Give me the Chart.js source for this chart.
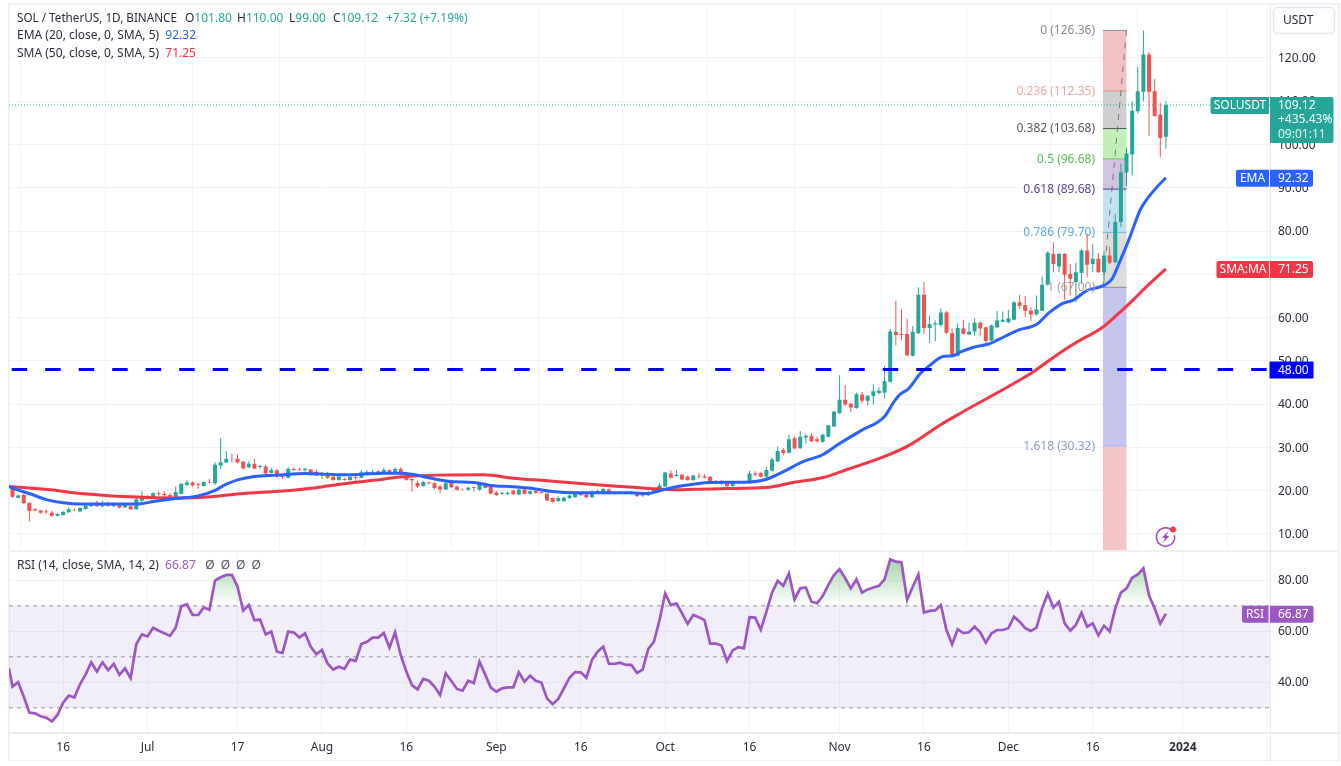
<!DOCTYPE html>
<html><head><meta charset="utf-8"><title>SOL / TetherUS</title>
<script src="https://cdn.jsdelivr.net/npm/chart.js@4"></script>
<style>
html,body{margin:0;padding:0;background:#fff;overflow:hidden;width:1341px;height:766px}
canvas{position:absolute;left:0}
.f{position:absolute;background:#eef0f5}
</style></head><body>
<div class="f" style="left:8px;top:3px;width:1331px;height:1.5px"></div>
<div class="f" style="left:8px;top:759.5px;width:1331px;height:1.5px"></div>
<div class="f" style="left:8px;top:3px;width:1.5px;height:758px"></div>
<div class="f" style="left:1338px;top:3px;width:1.5px;height:758px"></div>
<div class="f" style="left:8px;top:549.5px;width:1331px;height:2px"></div>
<div class="f" style="left:8px;top:732px;width:1331px;height:1.5px;background:#e8eaf0"></div>
<div class="f" style="left:1269.5px;top:3px;width:1.5px;height:758px;background:#e8eaf0"></div>
<canvas id="main" width="1341" height="550" style="top:0"></canvas>
<canvas id="rsi" width="1341" height="216" style="top:550px"></canvas>
<script>
// Daily candles, index 0 = 7 Jun 2023 ... index 205 = 29 Dec 2023
const opens=[20.7,18.4,19.0,17.2,15.7,15.4,15.2,14.9,14.2,14.4,
15.0,15.6,15.2,15.8,16.4,17.3,16.4,17.1,16.4,16.7,
16.2,16.4,15.7,17.7,18.6,18.4,19.4,19.3,19.0,18.5,
19.3,21.3,21.9,21.5,21.1,22.0,21.7,25.8,26.5,27.4,
27.4,26.7,25.4,26.2,25.5,25.6,24.1,24.7,23.4,23.0,
25.0,24.9,24.7,24.9,24.4,23.8,24.1,23.2,22.5,22.7,
22.5,23.2,23.0,24.0,24.2,24.5,24.2,24.7,23.9,25.0,
23.8,22.7,21.8,21.1,21.9,21.7,21.0,20.3,21.9,20.9,
20.3,20.2,20.8,20.2,21.8,20.9,19.6,19.3,19.25,20.0,
19.1,20.3,19.3,20.0,19.7,19.3,18.3,17.6,17.6,18.3,
18.5,19.3,19.1,18.5,19.5,19.7,20.3,19.7,19.6,19.6,
19.3,19.3,18.9,18.95,19.6,20.1,21.0,24.0,23.4,23.7,
23.3,22.5,23.35,23.3,23.2,21.9,22.2,21.9,21.1,21.8,
22.0,21.8,24.0,24.1,23.2,24.6,26.75,29.4,28.75,32.1,
29.8,32.3,32.7,31.9,31.3,32.45,34.85,37.9,41.0,40.1,
39.1,42.25,40.8,41.9,42.6,42.7,45.2,56.7,56.2,56.2,
51.2,56.4,65.3,57.6,58.4,58.3,61.2,56.4,51.2,57.5,
56.1,56.8,58.8,57.75,54.7,57.75,59.05,58.9,59.5,63.5,
62.9,61.6,60.7,61.6,67.6,74.7,71.8,74.7,70.1,68.2,
70.3,75.5,72.4,73.6,70.5,74.35,72.8,82.1,93.5,97.7,
107.7,112.2,120.8,112.3,106.9,101.8];
const highs=[20.9,19.2,19.3,17.2,16.0,15.6,15.8,15.3,14.8,15.3,
16.1,15.9,16.1,16.9,17.3,17.7,17.6,17.5,17.3,17.0,
16.9,16.9,18.3,19.9,18.9,19.7,19.9,19.9,19.4,21.0,
21.7,22.4,22.1,21.8,22.2,22.7,26.6,32.1,29.1,28.6,
28.4,26.9,26.8,27.4,26.0,26.0,25.3,25.0,23.8,25.4,
25.4,25.3,25.3,25.1,24.9,24.4,24.4,23.6,23.4,23.0,
23.4,23.6,24.8,24.7,24.8,24.7,25.3,24.9,25.4,25.4,
24.1,22.9,22.3,22.3,22.1,21.96,21.3,21.9,22.1,21.2,
20.5,20.9,20.96,22.0,22.0,21.1,19.9,19.7,19.7,20.3,
20.5,20.5,20.1,20.3,19.9,19.6,18.4,18.8,18.6,19.1,
19.5,19.5,19.3,20.1,20.3,20.65,20.5,19.9,19.8,19.7,
19.6,19.5,19.5,19.95,20.6,21.8,24.4,24.7,24.8,23.9,
23.5,23.7,24.1,23.8,23.4,22.5,22.5,22.1,22.3,22.3,
22.3,24.6,24.5,24.4,25.4,27.7,30.2,29.8,32.9,32.5,
33.8,33.15,33.3,32.45,33.15,35.2,38.5,46.7,44.4,40.25,
42.6,42.8,42.1,44.7,43.9,48.9,57.4,63.9,61.9,59.8,
58.0,67.0,68.2,60.5,59.3,62.1,61.5,57.4,58.7,59.5,
58.8,59.8,59.1,57.9,58.4,61.6,61.4,61.8,63.8,65.3,
65.0,62.4,65.1,69.5,75.35,77.4,75.0,74.9,72.4,72.6,
75.9,79.4,77.05,74.95,75.3,76.3,84.0,95.6,99.3,110.0,
117.95,126.36,121.3,115.1,109.5,110.0];
const lows=[18.3,18.2,17.0,12.9,15.2,14.7,14.7,13.9,14.1,14.2,
14.9,15.3,15.2,15.6,16.3,16.3,16.1,16.3,16.3,15.9,
16.0,15.6,15.6,17.4,17.9,18.2,18.8,18.6,18.4,18.1,
19.2,21.1,21.0,20.4,21.0,21.7,21.3,25.0,26.4,26.5,
26.3,24.8,25.2,25.0,25.1,23.8,24.0,23.0,22.7,22.9,
24.6,24.6,24.4,23.5,23.4,22.7,22.7,22.3,22.3,22.3,
22.3,22.0,22.9,23.9,24.0,24.1,24.0,23.8,23.7,23.6,
22.3,19.8,20.7,20.9,21.5,20.3,19.4,20.2,20.6,20.0,
20.0,20.0,19.8,20.0,20.5,19.1,18.8,19.0,19.0,19.0,
18.95,19.1,19.1,19.3,19.3,17.6,17.3,17.4,17.4,18.1,
18.3,18.8,18.3,18.3,19.3,19.6,19.2,19.2,19.3,19.2,
19.1,18.6,18.6,18.8,19.4,19.95,20.9,22.9,23.2,22.4,
22.3,22.3,22.8,22.8,21.5,21.5,21.3,20.7,20.9,21.5,
21.5,21.65,23.4,23.0,23.0,24.4,26.6,28.2,28.6,29.6,
29.7,30.9,31.2,31.1,31.1,32.3,34.7,37.8,39.55,38.1,
38.95,40.2,39.7,39.9,42.2,41.3,45.0,53.6,54.7,51.1,
51.0,56.2,56.2,54.1,54.45,57.9,56.2,51.1,51.0,56.1,
56.0,55.8,55.8,53.5,54.5,57.6,58.9,58.7,59.4,62.0,
60.1,59.15,60.5,61.5,67.4,70.5,70.5,64.1,65.1,63.5,
67.8,69.3,70.5,70.3,68.2,72.4,72.65,80.9,90.4,92.9,
107.15,110.0,102.0,106.45,97.0,99.0];
const closes=[18.6,18.9,17.1,15.3,15.4,14.9,15.0,14.2,14.6,15.1,
15.7,15.5,16.0,16.6,17.1,16.4,17.1,16.5,17.0,16.1,
16.7,15.7,18.0,18.7,18.3,19.4,19.2,19.0,18.6,19.7,
21.6,21.9,21.2,21.3,22.0,21.9,26.0,26.6,27.4,27.3,
26.5,25.2,26.2,25.1,25.7,24.0,24.8,23.3,23.2,25.1,
24.7,24.7,25.0,23.7,23.6,24.0,23.0,22.5,23.2,22.5,
23.2,23.0,24.2,24.3,24.4,24.3,24.8,23.9,25.0,23.7,
22.5,22.4,21.0,22.0,21.7,20.6,20.3,21.7,20.8,20.2,
20.2,20.7,20.65,21.8,20.7,19.3,19.0,19.5,19.5,19.2,
20.3,19.3,19.9,19.5,19.5,17.8,17.4,18.3,18.4,18.9,
19.3,19.0,18.5,19.6,19.95,20.4,19.3,19.3,19.4,19.3,
19.5,18.7,19.3,19.7,20.3,21.2,24.2,23.0,23.7,22.6,
22.5,23.5,23.2,23.0,21.7,22.1,21.7,21.1,22.0,22.0,
21.8,24.0,23.7,23.2,24.8,27.2,29.2,28.7,31.9,29.75,
32.45,32.7,31.4,31.4,32.9,35.1,38.25,41.0,39.9,39.2,
42.3,40.8,41.95,43.0,43.1,45.3,56.8,56.0,56.0,51.3,
56.7,65.3,57.6,58.5,58.7,61.2,56.5,51.3,57.6,56.2,
56.7,58.8,57.5,54.6,58.15,59.3,59.5,59.8,63.55,62.7,
61.5,60.7,61.85,67.6,74.96,72.4,74.7,69.9,68.95,70.5,
75.5,72.2,73.6,70.5,74.35,72.65,82.1,93.6,97.9,107.8,
112.3,120.8,112.2,106.6,101.5,109.12];

const emaDays=[-0.62,0,3,6,9,12,16,22,25,29,33,36,38,40,43,47,52,56,59,62,66,69,71,74,78,82,85,89,93,96,100,105,110,113,115,118,121,124,130,134,137,140.6,144,147,150.7,155,156.6,157.8,159.2,161.3,163,165.5,167.2,168.4,170.7,173.7,176.6,179,182,184.3,186.7,188.5,190.9,193.9,195.4,196.9,198.6,200.4,201.9,203.4,205];
const emaValues=[21.0,20.6,19.35,17.95,17.2,16.9,16.9,16.9,17.5,18.2,18.8,20.1,21.5,22.5,23.3,23.6,24.0,23.8,23.66,23.8,24.05,24.05,23.8,23.0,22.1,21.9,21.2,20.9,20.4,19.8,19.5,19.55,19.5,19.35,20.0,20.9,21.5,21.9,21.96,22.65,24.4,26.75,28.3,30.9,33.8,37.15,40.4,42.3,43.5,47.0,48.9,51.05,51.2,52.0,53.1,54.0,55.8,57.2,58.4,61.2,63.3,64.0,66.2,67.4,68.9,73.2,78.6,84.8,87.85,90.17,92.32];
const smaDays=[-0.62,6.7,12.6,20.9,29.8,35.7,40.4,48.1,54,58.2,64.1,69.5,76,83.7,89,95,100.9,106.8,113.3,118.6,121,127,134,138.8,144.1,148.3,154.8,159.5,164.9,168.4,178.8,181.5,185,188.6,193.9,196.3,199.2,201.6,205];
const smaValues=[21.0,20.2,19.3,18.6,18.3,18.65,19.3,19.95,20.7,21.5,22.4,23.2,23.6,23.66,22.9,22.3,21.65,21.1,20.5,20.2,20.35,20.5,20.73,21.9,23.04,24.9,27.8,30.6,35.2,37.85,45.4,47.55,50.8,53.9,57.9,60.6,64.1,67.2,71.25];

const rsiValues=[38.3,40.0,34.4,28.1,27.8,26.7,26.1,24.6,27.2,32.0,
34.8,34.0,39.2,43.1,47.8,44.2,47.8,44.8,47.2,42.9,
45.5,41.6,54.9,58.8,58.0,61.4,60.2,59.2,58.2,61.4,
69.8,70.6,66.4,66.4,69.4,68.4,79.9,81.2,82.1,82.1,
77.5,68.1,70.3,64.3,64.6,58.8,59.9,52.0,51.5,59.9,
59.5,57.6,59.2,54.0,51.0,52.7,47.4,45.0,46.1,45.3,
48.9,48.4,55.0,55.9,57.5,57.5,59.3,53.6,59.6,50.7,
44.2,38.9,37.2,41.3,40.6,38.3,35.0,43.5,40.5,37.4,
36.7,40.6,39.7,48.1,43.1,37.9,36.3,37.6,38.0,38.0,
43.9,40.2,42.6,40.6,39.9,33.7,31.4,33.5,37.6,41.8,
44.0,43.9,41.8,48.8,52.0,54.0,47.3,47.2,47.7,46.8,
46.8,43.65,45.0,53.1,55.9,64.4,74.9,70.3,71.0,67.0,
62.9,66.4,65.5,64.4,55.2,55.2,54.4,48.4,52.5,53.8,
53.3,65.5,65.35,60.6,67.7,75.15,79.85,77.9,82.7,72.5,
76.85,77.2,71.6,71.0,73.85,78.2,82.1,84.4,80.8,76.85,
80.4,75.15,76.45,77.2,77.8,80.4,88.2,87.3,87.05,72.3,
77.5,82.3,67.4,68.0,68.2,70.3,60.5,54.9,60.8,59.3,
59.6,61.8,59.6,55.5,59.2,60.5,60.5,61.2,65.7,63.8,
61.2,60.1,61.4,69.0,74.75,69.3,71.6,63.1,60.25,62.5,
67.3,61.8,63.1,58.4,62.2,59.9,69.0,75.15,76.85,81.0,
82.3,84.7,74.0,69.0,63.0,66.87];
const rsiLeadIn=45.5;

const priceTicks=[120,110,100,90,80,70,60,50,40,30,20,10];
const rsiTicks=[80,60,40];
const rsiLevels=[70,50,30];
const timeTickDays=[9,24,40,55,70,86,101,116,131,147,162,177,192,208];
const timeTickLabels=['16','Jul','17','Aug','16','Sep','16','Oct','16','Nov','16','Dec','16','2024'];

const supportLevel=48;
const lastPrice=109.12, emaLast=92.32, smaLast=71.25, rsiLast=66.87;
const fibLevels=[126.36,112.35,103.68,96.68,89.68,79.70,67.00,30.32];
const fibRatios=['0','0.236','0.382','0.5','0.618','0.786','1','1.618'];
const fibLine=['#8a8d96','#e88d8d','#55585f','#66cc55','#5e3a96','#62b4e2','#8a8d96','#b4b4e6'];
const fibText=['#8b8b8b','#f0a5a5','#5a5a5a','#5dbb55','#5f3f9c','#5aa9dc','#a2a2a2','#8e9ccb'];
const fibFill=['#f2c2c2','#cfcfd1','#c2efb8','#d0c4e2','#c3e1f1','#dcdcdc','#c4c4ee','#f4c6c6'];
const fibDayStart=193.8, fibDayEnd=198.0, fibDayMid=195.9;

const XMIN=-0.62, XMAX=223.5;
const UP='#26a69a', DOWN='#ef5350', BLUE='#2962ff', RED='#f23645', PURPLE='#9c57c2';
const FONT='"Noto Sans", "Open Sans", sans-serif';
const TEXT='#2a2e39';
Chart.defaults.animation=false;
Chart.defaults.font.family=FONT;

const days=opens.map((_,i)=>i);
const cols=days.map(i=>closes[i]>=opens[i]?UP:DOWN);
const xy=(xs,ys)=>xs.map((x,i)=>({x,y:ys[i]}));
const hline=(y)=>[{x:XMIN,y},{x:XMAX,y}];
const fitX=h=>s=>{s.height=h;s.paddingLeft=0;s.paddingRight=0;s.paddingTop=0;s.paddingBottom=0};
const fitY=s=>{s.width=71;s.paddingTop=0;s.paddingBottom=0;s.paddingLeft=0;s.paddingRight=0};

function box(ctx,x,y,w,h,c,rl,rr){ctx.fillStyle=c;ctx.beginPath();ctx.roundRect(x,y,w,h,[rl,rr,rr,rl]);ctx.fill();}
function txt(ctx,s,x,y,c,align,font,maxW){ctx.fillStyle=c;ctx.textAlign=align||'left';ctx.textBaseline='middle';ctx.font=font||('12px '+FONT);if(maxW)ctx.fillText(s,x,y,maxW);else ctx.fillText(s,x,y);}
function runs(ctx,x,y,parts){ctx.font='12px '+FONT;ctx.textAlign='left';ctx.textBaseline='middle';for(const [s,c] of parts){ctx.fillStyle=c;ctx.fillText(s,x,y);x+=ctx.measureText(s).width;}return x;}

const mainOverlay={id:'mainOverlay',afterDraw(chart){
  const ctx=chart.ctx,ys=chart.scales.y;ctx.save();
  // fibonacci labels
  fibLevels.forEach((v,i)=>txt(ctx,fibRatios[i]+' ('+v.toFixed(2)+')',1095,ys.getPixelForValue(v)+0.5,fibText[i],'right'));
  // legend
  txt(ctx,'SOL / TetherUS, 1D, BINANCE',17,18.5,TEXT,'left',null,160);
  runs(ctx,185,18.5,[['O',TEXT],['101.80',UP]]);
  runs(ctx,237,18.5,[['H',TEXT],['110.00',UP]]);
  runs(ctx,289,18.5,[['L',TEXT],['99.00',UP]]);
  runs(ctx,333,18.5,[['C',TEXT],['109.12',UP]]);
  runs(ctx,386,18.5,[['+7.32 (+7.19%)',UP]]);
  runs(ctx,17,36,[['EMA (20, close, 0, SMA, 5)  ',TEXT],[emaLast.toFixed(2),BLUE]]);
  runs(ctx,17,53.5,[['SMA (50, close, 0, SMA, 5)  ',TEXT],[smaLast.toFixed(2),RED]]);
  // USDT button
  ctx.fillStyle='#fff';ctx.strokeStyle='#e6e8ef';ctx.lineWidth=1.5;ctx.beginPath();ctx.roundRect(1273.5,7.5,61,26,4);ctx.fill();ctx.stroke();
  txt(ctx,'USDT',1283,21,TEXT);
  // price tags
  const p=ys.getPixelForValue(lastPrice)+0.5;
  box(ctx,1210.5,p-8.5,58.5,17,UP,2,0);txt(ctx,'SOLUSDT',1240,p+0.5,'#fff','center');
  box(ctx,1270,p-8.5,63.5,46,UP,0,2);
  txt(ctx,lastPrice.toFixed(2),1278,p+0.5,'#fff');txt(ctx,'+435.43%',1278,p+14.5,'#fff');txt(ctx,'09:01:11',1278,p+29,'#e6f4f2');
  const e=ys.getPixelForValue(emaLast)+0.5;
  box(ctx,1236,e-8.5,33,17,BLUE,2,0);txt(ctx,'EMA',1252.5,e+0.5,'#fff','center');
  box(ctx,1270,e-8.5,43,17,BLUE,0,2);txt(ctx,emaLast.toFixed(2),1278,e+0.5,'#fff');
  const m=ys.getPixelForValue(smaLast)+0.5;
  box(ctx,1216.5,m-8.5,52.5,17,RED,2,0);txt(ctx,'SMA:MA',1243,m+0.5,'#fff','center');
  box(ctx,1270,m-8.5,43,17,RED,0,2);txt(ctx,smaLast.toFixed(2),1278,m+0.5,'#fff');
  const s=ys.getPixelForValue(supportLevel)+0.5;
  box(ctx,1269.5,s-8.5,44,17,'#0000ff',0,1);txt(ctx,supportLevel.toFixed(2),1278,s+0.5,'#fff');
  // flash icon
  const cx=1165.5,cy=537;ctx.strokeStyle='#a04ac0';ctx.lineWidth=1.6;ctx.beginPath();ctx.arc(cx,cy,9.2,-0.2,Math.PI*1.72);ctx.stroke();
  ctx.fillStyle='#a04ac0';ctx.beginPath();ctx.moveTo(cx+2.8,cy-6);ctx.lineTo(cx-3.6,cy+0.8);ctx.lineTo(cx-0.4,cy+0.8);ctx.lineTo(cx-2.6,cy+6);ctx.lineTo(cx+3.8,cy-1);ctx.lineTo(cx+0.6,cy-1);ctx.closePath();ctx.fill();
  ctx.fillStyle='#f23645';ctx.beginPath();ctx.arc(1173,529.5,2.9,0,Math.PI*2);ctx.fill();
  ctx.restore();
}};

const gridColor='#f1f3f8';
new Chart(document.getElementById('main'),{
  type:'bar',
  data:{datasets:[
    {type:'bar',order:20,grouped:false,barThickness:23.5,inflateAmount:0,borderWidth:0,
      backgroundColor:fibFill,
      data:fibLevels.map((v,i)=>({x:fibDayMid,y:[v,i+1<fibLevels.length?fibLevels[i+1]:0]}))},
    ...fibLevels.map((v,i)=>({type:'line',order:15,borderColor:fibLine[i],borderWidth:1,pointRadius:0,
      data:[{x:fibDayStart,y:v},{x:fibDayEnd,y:v}]})),
    {type:'line',order:14,borderColor:'rgba(90,90,95,.75)',borderWidth:1,borderDash:[6,6],pointRadius:0,
      data:[{x:fibDayStart,y:fibLevels[6]},{x:fibDayEnd,y:fibLevels[0]}]},
    {type:'line',order:12,borderColor:UP,borderWidth:1,borderDash:[1,2],pointRadius:0,data:hline(lastPrice)},
    {type:'bar',order:6,grouped:false,barThickness:1,inflateAmount:0,borderWidth:0,backgroundColor:cols,
      data:days.map(i=>({x:i,y:[lows[i],highs[i]]}))},
    {type:'bar',order:5,grouped:false,barThickness:4,inflateAmount:0,borderWidth:0,backgroundColor:cols,
      data:days.map(i=>({x:i,y:[opens[i],closes[i]]}))},
    {type:'line',order:3,borderColor:RED,borderWidth:3,pointRadius:0,cubicInterpolationMode:'monotone',data:xy(smaDays,smaValues)},
    {type:'line',order:2,borderColor:BLUE,borderWidth:3,pointRadius:0,cubicInterpolationMode:'monotone',data:xy(emaDays,emaValues)},
    {type:'line',order:1,borderColor:'#0000ff',borderWidth:3,borderDash:[15.5,18],borderDashOffset:-2.7,pointRadius:0,data:hline(supportLevel)}
  ]},
  options:{responsive:false,
    layout:{padding:{left:9,top:3.5,right:0,bottom:0}},
    plugins:{legend:{display:false},tooltip:{enabled:false}},
    scales:{
      x:{type:'linear',min:XMIN,max:XMAX,offset:false,afterFit:fitX(0),
        afterBuildTicks:s=>{s.ticks=timeTickDays.map(v=>({value:v}))},
        grid:{color:gridColor,drawTicks:false},border:{display:false},ticks:{display:false}},
      y:{position:'right',min:6.30,max:132.57,afterFit:fitY,
        afterBuildTicks:s=>{s.ticks=priceTicks.map(v=>({value:v}))},
        grid:{color:gridColor,drawTicks:false},border:{display:false},
        ticks:{color:TEXT,padding:8,labelOffset:0.7,crossAlign:'near',autoSkip:false,font:{size:12},callback:v=>v.toFixed(2)}}
    }
  },
  plugins:[mainOverlay]
});

const rsiOverlay={id:'rsiOverlay',afterDraw(chart){
  const ctx=chart.ctx,ys=chart.scales.y;ctx.save();
  runs(ctx,17,15.5,[['RSI (14, close, SMA, 14, 2)  ',TEXT],[rsiLast.toFixed(2),PURPLE]]);
  ['\u00D8','\u00D8','\u00D8','\u00D8'].forEach((s,i)=>txt(ctx,s,210+i*15.4,15.5,'#50535e','center'));
  const r=ys.getPixelForValue(rsiLast)+0.5;
  box(ctx,1242,r-8.5,26.5,17,PURPLE,2,0);txt(ctx,'RSI',1255,r+0.5,'#fff','center');
  box(ctx,1270,r-8.5,43.5,17,PURPLE,0,2);txt(ctx,rsiLast.toFixed(2),1278,r+0.5,'#fff');
  ctx.restore();
}};
const rsiDays=[XMIN,...days];
const rsiSeries=[rsiLeadIn,...rsiValues];
const rsiChart=new Chart(document.getElementById('rsi'),{
  type:'line',
  data:{datasets:[
    {order:9,borderWidth:0,pointRadius:0,backgroundColor:'rgba(126,87,194,.1)',
      fill:{target:{value:rsiLevels[2]}},data:hline(rsiLevels[0])},
    ...rsiLevels.map(v=>({order:8,borderColor:'rgba(120,123,134,.75)',borderWidth:1,borderDash:[4,4],pointRadius:0,data:hline(v)})),
    {order:7,borderWidth:0,pointRadius:0,fill:{target:{value:rsiLevels[0]},above:'rgba(76,175,80,.3)',below:'rgba(0,0,0,0)'},data:xy(rsiDays,rsiSeries)},
    {order:6,borderWidth:0,pointRadius:0,fill:{target:{value:rsiLevels[2]},above:'rgba(0,0,0,0)',below:'rgba(242,54,69,.15)'},data:xy(rsiDays,rsiSeries)},
    {order:1,borderColor:PURPLE,borderWidth:2.7,pointRadius:0,tension:0,data:xy(rsiDays,rsiSeries)}
  ]},
  options:{responsive:false,
    layout:{padding:{left:9,top:1.5,right:0,bottom:0}},
    plugins:{legend:{display:false},tooltip:{enabled:false}},
    scales:{
      x:{type:'linear',min:XMIN,max:XMAX,afterFit:fitX(34),
        afterBuildTicks:s=>{s.ticks=timeTickDays.map(v=>({value:v}))},
        grid:{color:gridColor,drawTicks:false},border:{display:false},
        ticks:{color:TEXT,padding:8,maxRotation:0,autoSkip:false,
          font:c=>({size:12,weight:c.tick&&c.tick.value===208?'bold':'normal'}),
          callback:v=>timeTickLabels[timeTickDays.indexOf(v)]}},
      y:{position:'right',min:20.5,max:91.3,afterFit:fitY,
        afterBuildTicks:s=>{s.ticks=rsiTicks.map(v=>({value:v}))},
        grid:{color:gridColor,drawTicks:false},border:{display:false},
        ticks:{color:TEXT,padding:8,labelOffset:0.7,crossAlign:'near',autoSkip:false,font:{size:12},callback:v=>v.toFixed(2)}}
    }
  },
  plugins:[rsiOverlay]
});
// gradients for the overbought / oversold areas, anchored on the RSI scale
(function(){
  const ys=rsiChart.scales.y,ctx=rsiChart.ctx;
  const g=ctx.createLinearGradient(0,ys.getPixelForValue(88),0,ys.getPixelForValue(70));
  g.addColorStop(0,'rgba(76,175,80,.5)');g.addColorStop(1,'rgba(76,175,80,0)');
  const b=ctx.createLinearGradient(0,ys.getPixelForValue(30),0,ys.getPixelForValue(22));
  b.addColorStop(0,'rgba(242,54,69,0)');b.addColorStop(1,'rgba(242,54,69,.3)');
  rsiChart.data.datasets[4].fill.above=g;
  rsiChart.data.datasets[5].fill.below=b;
  rsiChart.update('none');
})();
</script>
</body></html>
